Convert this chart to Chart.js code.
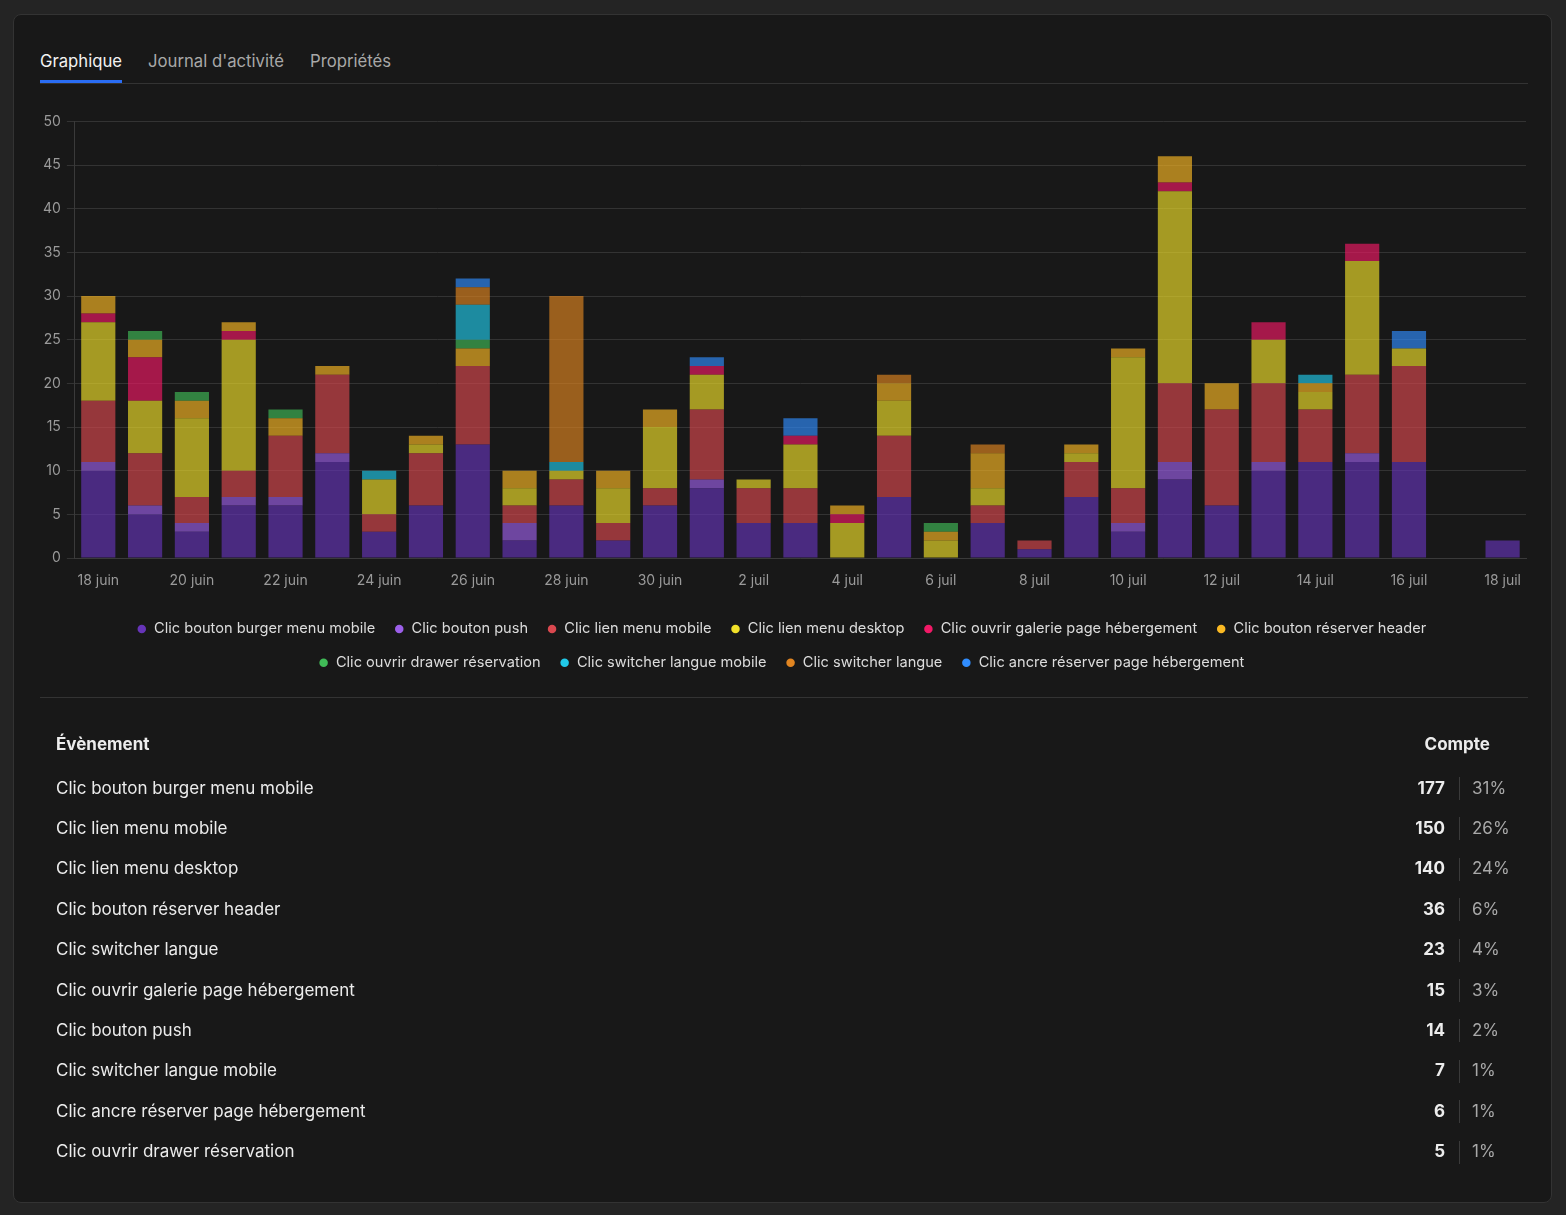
<!DOCTYPE html>
<html lang="fr">
<head>
<meta charset="utf-8">
<title>Graphique</title>
<script src="https://cdn.jsdelivr.net/npm/chart.js@4/dist/chart.umd.min.js"></script>
<style>
  html, body { margin: 0; padding: 0; }
  body {
    width: 1566px; height: 1215px;
    background: #242424;
    font-family: Inter, "Noto Sans", sans-serif;
    position: relative;
    overflow: hidden;
  }
  .panel {
    position: absolute; left: 13px; top: 14px;
    width: 1537px; height: 1187px;
    background: #181818;
    border: 1px solid #333;
    border-radius: 8px;
  }
  .tabs {
    position: absolute; left: 26px; top: 35px; width: 1488px; height: 33px;
    border-bottom: 1px solid #333;
    display: flex; gap: 26px;
    font-size: 16.7px;
  }
  .tab { color: #a8a8a8; height: 33px; line-height: 23px; box-sizing: border-box; }
  .tab.active { color: #f2f2f2; border-bottom: 3px solid #2a6df4; }
  .chart-box {
    position: absolute; left: 23px; top: 92px; width: 1495px; height: 573px;
  }
  .sep {
    position: absolute; left: 26px; top: 682px; width: 1488px; height: 1px; background: #333;
  }
  .tbl { position: absolute; left: 0; top: 0; width: 1566px; height: 1215px; pointer-events: none;
         font-size: 17px; color: #ececec; }
  .tbl div { position: absolute; line-height: 22px; white-space: nowrap; }
  .hd { font-weight: 700; }
  .num { font-weight: 700; text-align: right; width: 80px; }
  .pct { color: #a8a8a8; }
  .bar { width: 1px; height: 23px; background: #3a3a3a; }
</style>
</head>
<body>
<div class="panel">
  <div class="tabs">
    <div class="tab active">Graphique</div>
    <div class="tab">Journal d'activité</div>
    <div class="tab">Propriétés</div>
  </div>
  <div class="chart-box"><canvas id="eventsChart"></canvas></div>
  <div class="sep"></div>
</div>
<div class="tbl" id="eventsTable"></div>
<script>
// DATA
const days = [
  "18 juin", "19 juin", "20 juin", "21 juin", "22 juin", "23 juin", "24 juin", "25 juin",
  "26 juin", "27 juin", "28 juin", "29 juin", "30 juin", "1 juil", "2 juil", "3 juil",
  "4 juil", "5 juil", "6 juil", "7 juil", "8 juil", "9 juil", "10 juil", "11 juil",
  "12 juil", "13 juil", "14 juil", "15 juil", "16 juil", "17 juil", "18 juil"
];

const burgerMenuMobile  = [10, 5, 3, 6, 6, 11, 3, 6, 13, 2, 6, 2, 6, 8, 4, 4, 0, 7, 0, 4, 1, 7, 3, 9, 6, 10, 11, 11, 11, 0, 2];
const boutonPush        = [1, 1, 1, 1, 1, 1, 0, 0, 0, 2, 0, 0, 0, 1, 0, 0, 0, 0, 0, 0, 0, 0, 1, 2, 0, 1, 0, 1, 0, 0, 0];
const lienMenuMobile    = [7, 6, 3, 3, 7, 9, 2, 6, 9, 2, 3, 2, 2, 8, 4, 4, 0, 7, 0, 2, 1, 4, 4, 9, 11, 9, 6, 9, 11, 0, 0];
const lienMenuDesktop   = [9, 6, 9, 15, 0, 0, 4, 1, 0, 2, 1, 4, 7, 4, 1, 5, 4, 4, 2, 2, 0, 1, 15, 22, 0, 5, 2, 13, 2, 0, 0];
const galerieHebergement = [1, 5, 0, 1, 0, 0, 0, 0, 0, 0, 0, 0, 0, 1, 0, 1, 1, 0, 0, 0, 0, 0, 0, 1, 0, 2, 0, 2, 0, 0, 0];
const reserverHeader    = [2, 2, 2, 1, 2, 1, 0, 1, 2, 2, 0, 2, 2, 0, 0, 0, 1, 2, 1, 4, 0, 1, 1, 3, 3, 0, 1, 0, 0, 0, 0];
const drawerReservation = [0, 1, 1, 0, 1, 0, 0, 0, 1, 0, 0, 0, 0, 0, 0, 0, 0, 0, 1, 0, 0, 0, 0, 0, 0, 0, 0, 0, 0, 0, 0];
const switcherMobile    = [0, 0, 0, 0, 0, 0, 1, 0, 4, 0, 1, 0, 0, 0, 0, 0, 0, 0, 0, 0, 0, 0, 0, 0, 0, 0, 1, 0, 0, 0, 0];
const switcherLangue    = [0, 0, 0, 0, 0, 0, 0, 0, 2, 0, 19, 0, 0, 0, 0, 0, 0, 1, 0, 1, 0, 0, 0, 0, 0, 0, 0, 0, 0, 0, 0];
const ancreHebergement  = [0, 0, 0, 0, 0, 0, 0, 0, 1, 0, 0, 0, 0, 1, 0, 2, 0, 0, 0, 0, 0, 0, 0, 0, 0, 0, 0, 0, 2, 0, 0];

const seriesNames = [
  "Clic bouton burger menu mobile", "Clic bouton push", "Clic lien menu mobile",
  "Clic lien menu desktop", "Clic ouvrir galerie page hébergement", "Clic bouton réserver header",
  "Clic ouvrir drawer réservation", "Clic switcher langue mobile", "Clic switcher langue",
  "Clic ancre réserver page hébergement"
];
const seriesValues = [
  burgerMenuMobile, boutonPush, lienMenuMobile, lienMenuDesktop, galerieHebergement,
  reserverHeader, drawerReservation, switcherMobile, switcherLangue, ancreHebergement
];
const seriesColors = [
  "102, 52, 184", "156, 95, 233", "218, 72, 79", "241, 225, 41", "241, 25, 102",
  "250, 185, 35", "64, 187, 87", "33, 202, 233", "225, 133, 33", "48, 141, 255"
];

// table rows (name, count, percent)
const tableNames = [
  "Clic bouton burger menu mobile", "Clic lien menu mobile", "Clic lien menu desktop",
  "Clic bouton réserver header", "Clic switcher langue", "Clic ouvrir galerie page hébergement",
  "Clic bouton push", "Clic switcher langue mobile", "Clic ancre réserver page hébergement",
  "Clic ouvrir drawer réservation"
];
const tableCounts = [177, 150, 140, 36, 23, 15, 14, 7, 6, 5];
const tablePercents = ["31%", "26%", "24%", "6%", "4%", "3%", "2%", "1%", "1%", "1%"];

const yTicks = [0, 5, 10, 15, 20, 25, 30, 35, 40, 45, 50];

// STACKED BAR CHART
const ctx = document.getElementById("eventsChart").getContext("2d");
new Chart(ctx, {
    type: "bar",
    data: {
        labels: days,
        datasets: seriesNames.map((name, i) => ({
            label: name,
            data: seriesValues[i],
            backgroundColor: `rgba(${seriesColors[i]}, 0.65)`,
            borderWidth: 0,
            categoryPercentage: 1,
            barPercentage: 0.73
        }))
    },
    options: {
        responsive: true,
        maintainAspectRatio: false,
        animation: false,
        layout: { padding: { top: 6, right: 6 } },
        plugins: {
            tooltip: { enabled: false },
            legend: {
                position: "bottom",
                labels: {
                    color: "#dcdcdc",
                    usePointStyle: true,
                    pointStyle: "circle",
                    boxWidth: 10,
                    boxHeight: 6,
                    padding: 19,
                    font: { family: "Inter", size: 14.6 },
                    generateLabels: chart => chart.data.datasets.map((ds, i) => ({
                        text: ds.label,
                        fillStyle: `rgb(${seriesColors[i]})`,
                        strokeStyle: `rgb(${seriesColors[i]})`,
                        lineWidth: 0,
                        pointStyle: "circle",
                        fontColor: "#dcdcdc",
                        datasetIndex: i
                    }))
                }
            }
        },
        scales: {
            x: {
                stacked: true,
                grid: { display: false },
                border: { color: "#3a3a3a" },
                afterFit: axis => { axis.height += 8; },
                ticks: {
                    color: "#9a9a9a",
                    font: { family: "Inter", size: 14 },
                    maxRotation: 0,
                    autoSkip: false,
                    padding: 6,
                    callback: (v, i) => (i % 2 === 0 ? days[i] : "")
                }
            },
            y: {
                stacked: true,
                min: 0,
                max: 50,
                afterBuildTicks: axis => { axis.ticks = yTicks.map(v => ({ value: v })); },
                grid: { color: "#333333", tickLength: 8 },
                border: { color: "#3a3a3a" },
                ticks: {
                    color: "#9a9a9a",
                    font: { family: "Inter", size: 14 },
                    padding: 6
                }
            }
        }
    }
});

// TABLE
const tbl = document.getElementById("eventsTable");
function cell(cls, text, left, centerY, extra) {
    const d = document.createElement("div");
    d.className = cls;
    d.textContent = text;
    d.style.left = left + "px";
    d.style.top = (centerY - 11) + "px";
    if (extra) Object.assign(d.style, extra);
    tbl.appendChild(d);
    return d;
}
cell("hd", "Évènement", 56, 744);
cell("hd", "Compte", 1390, 744, { width: "100px", textAlign: "right" });
tableNames.forEach((name, i) => {
    const y = 787.5 + i * 40.4;
    cell("", name, 56, y);
    cell("num", String(tableCounts[i]), 1365, y);
    cell("bar", "", 1459, y + 0.5);
    cell("pct", tablePercents[i], 1472, y);
});
</script>
</body>
</html>
